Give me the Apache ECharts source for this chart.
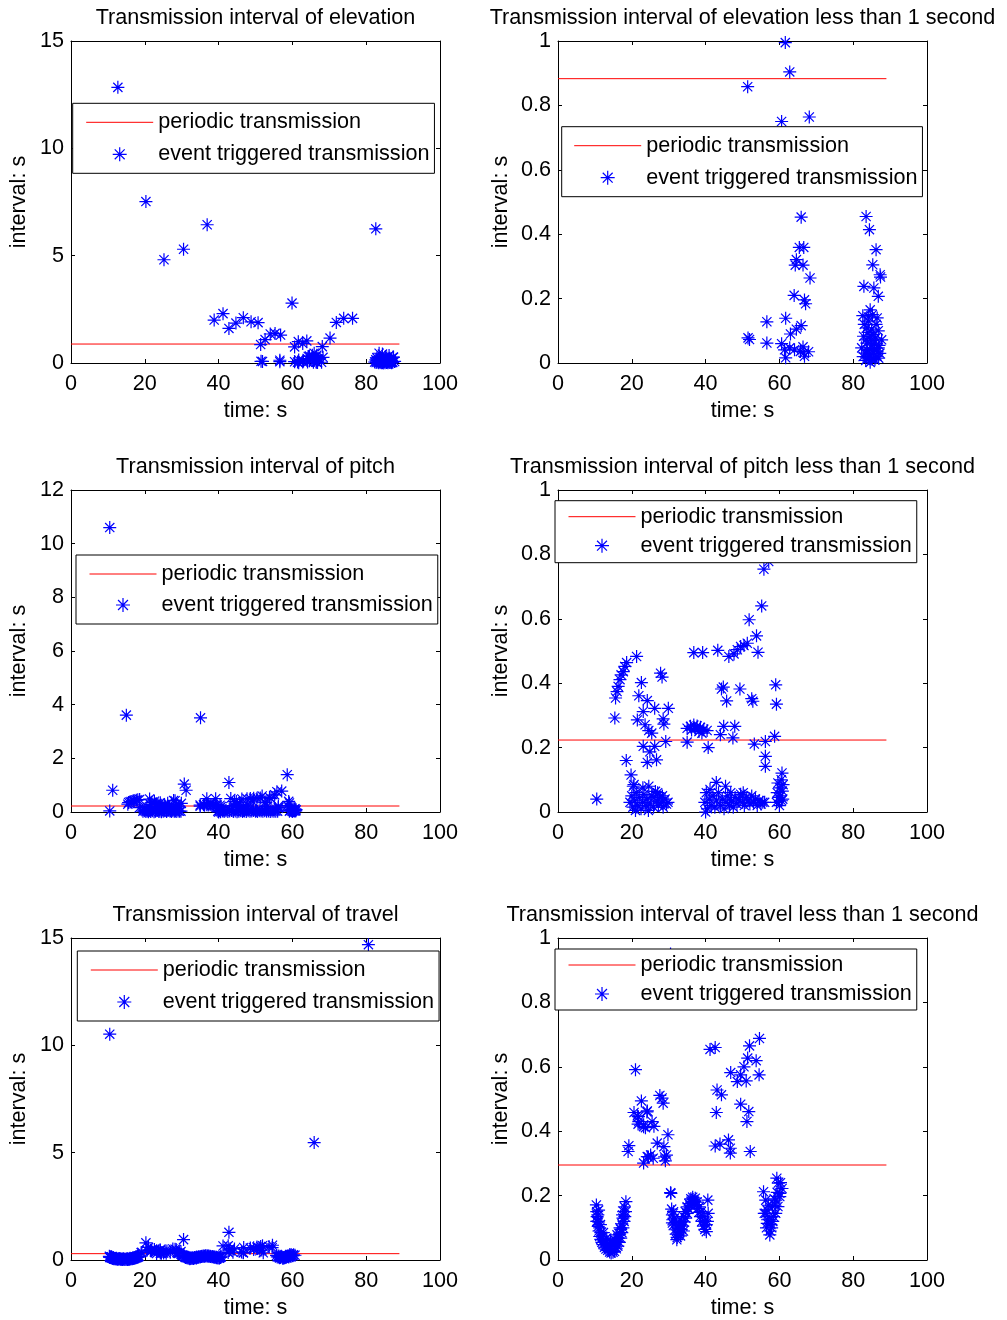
<!DOCTYPE html>
<html>
<head>
<meta charset="utf-8">
<title>Transmission intervals</title>
<script src="https://cdn.jsdelivr.net/npm/echarts@6/dist/echarts.min.js"></script>
<style>
  html, body { margin: 0; padding: 0; background: #fff; }
  #chart { width: 1007px; height: 1320px; }
</style>
</head>
<body>
<div id="chart"></div>
<script>
// ---- data: [time (s), interval (s)] ----
const elevationPoints = [
  [12.7,12.84],[20.3,7.52],[25.2,4.81],[30.5,5.30],[36.9,6.44],[82.6,6.25],
  [38.8,2.00],[41.2,2.30],[42.8,1.61],[44.7,1.86],[46.7,2.11],[48.8,1.92],[50.7,1.88],
  [52.6,1.09],[54.0,1.35],[55.3,1.38],[56.8,1.30],[59.9,2.79],[63.9,1.03],
  [70.2,1.16],[71.9,1.89],[73.9,2.08],[76.3,2.08],
  [51.4,0.858],[61.6,0.995],[62.8,0.904],[60.6,0.750],[68.1,0.764],
  [65.9,0.453],[65.4,0.359],[66.6,0.359],[64.6,0.321],[64.3,0.304],[66.4,0.304],[68.3,0.264],
  [64.0,0.210],[66.8,0.196],[67.1,0.184],[56.6,0.128],[61.7,0.139],[65.9,0.116],[64.6,0.105],
  [63.0,0.090],[51.5,0.078],[51.9,0.073],[56.6,0.062],[60.6,0.060],[61.4,0.041],[61.7,0.016],
  [62.8,0.047],[64.1,0.041],[66.4,0.050],[66.6,0.031],[67.9,0.035],[65.7,0.036],[66.8,0.021],
  [83.5,0.455],[84.4,0.414],[86.2,0.352],[85.3,0.305],[87.3,0.274],[87.4,0.267],[82.9,0.238],
  [85.6,0.233],[86.8,0.207],[84.6,0.165],[82.6,0.147],[84.1,0.143],[86.5,0.140],[83.7,0.109],
  [85.0,0.105],[86.8,0.100],[82.8,0.083],[84.6,0.083],[87.7,0.072],[83.7,0.062],[85.9,0.062],
  [82.3,0.047],[84.6,0.042],[86.8,0.047],[83.2,0.031],[85.5,0.029],[84.1,0.016],[86.4,0.021],
  [84.6,0.002],[83.0,0.120],[84.0,0.095],[85.4,0.088],[86.1,0.078],[83.5,0.072],[84.9,0.056],
  [85.8,0.045],[86.5,0.035],[83.8,0.040],[84.4,0.025],[85.1,0.012],[85.9,0.010],[86.9,0.015],
  [87.2,0.030],[82.7,0.020],[83.4,0.008],[84.8,0.070],[86.2,0.120],[84.2,0.130],[85.2,0.150],
  [87.0,0.055]
];

const pitchPoints = [
  [10.5,10.60],[15.0,3.61],[35.1,3.51],[42.8,1.10],[58.6,1.39],
  [11.3,0.81],[30.7,1.04],[31.2,0.81],
  [10.5,0.040],[15.4,0.292],[15.6,0.354],[16.0,0.374],[16.3,0.390],[16.8,0.411],[17.1,0.426],
  [17.7,0.436],[18.1,0.452],[18.6,0.464],[21.3,0.483],[18.5,0.160],[19.8,0.115],[20.6,0.085],
  [22.6,0.402],[21.9,0.361],[21.5,0.286],[23.1,0.312],[24.2,0.346],[23.6,0.271],[24.6,0.253],
  [25.4,0.245],[23.1,0.204],[24.9,0.187],[24.2,0.154],[26.2,0.204],[26.7,0.162],[26.2,0.322],
  [27.8,0.431],[28.2,0.419],[28.5,0.289],[28.7,0.273],[29.9,0.322],[29.2,0.219],
  [35.0,0.217],[35.0,0.260],[35.9,0.266],[36.8,0.270],[37.7,0.267],[38.6,0.263],[39.5,0.257],
  [40.4,0.253],[36.2,0.255],[37.2,0.258],[38.2,0.250],[39.0,0.245],[36.8,0.495],[39.2,0.495],
  [40.7,0.200],[43.3,0.502],[44.0,0.240],[44.8,0.388],[44.3,0.382],[45.7,0.345],[44.9,0.266],
  [46.3,0.483],[47.7,0.491],[48.6,0.504],[49.5,0.514],[50.4,0.517],[51.3,0.524],[49.3,0.382],
  [47.9,0.266],[47.4,0.230],[51.8,0.597],[53.8,0.547],[54.2,0.496],[52.5,0.352],[52.8,0.344],
  [53.2,0.211],[55.2,0.640],[55.8,0.754],[57.1,0.778],[56.2,0.219],[56.2,0.173],[56.2,0.142],
  [59.0,0.395],[59.2,0.335],[58.7,0.235],[60.7,0.121],[42.9,0.092],[45.4,0.080],
  [19.5,0.030],[20.0,0.050],[20.3,0.015],[20.8,0.035],[21.2,0.060],[21.6,0.020],[22.0,0.045],
  [22.5,0.010],[22.9,0.030],[23.3,0.055],[23.8,0.020],[24.1,0.040],[24.6,0.080],[25.0,0.025],
  [25.4,0.050],[25.9,0.015],[26.4,0.064],[26.8,0.035],[27.2,0.020],[27.6,0.045],[28.0,0.030],
  [28.5,0.015],[29.0,0.040],[29.4,0.025],[29.8,0.030],[20.4,0.080],[21.0,0.005],[23.0,0.075],
  [24.5,0.005],[26.0,0.045],[27.0,0.060],[28.3,0.050],
  [39.8,0.030],[40.2,0.060],[40.5,0.010],[41.0,0.040],[41.5,0.020],[42.0,0.050],[42.5,0.015],
  [43.0,0.035],[43.5,0.060],[44.0,0.020],[44.5,0.040],[45.0,0.010],[45.5,0.030],[46.0,0.050],
  [46.5,0.020],[47.0,0.035],[47.5,0.015],[48.0,0.045],[48.5,0.025],[49.0,0.040],[49.5,0.055],
  [50.0,0.030],[50.5,0.020],[51.0,0.045],[51.5,0.035],[52.0,0.025],[52.5,0.050],[53.0,0.030],
  [53.5,0.040],[54.0,0.020],[54.5,0.035],[55.0,0.025],[55.5,0.030],[56.0,0.030],[40.0,0.000],
  [41.2,0.070],[46.8,0.060],[50.2,0.060],
  [59.2,0.030],[59.4,0.060],[59.6,0.090],[59.8,0.045],[60.0,0.020],[60.1,0.075],[60.3,0.050],
  [60.5,0.100],[60.6,0.035],[60.8,0.065],[61.0,0.085],[60.9,0.040]
];

const travelPoints = [
  [10.5,10.52],[80.6,14.69],[65.9,5.47],[30.5,0.95],[42.8,1.29],[20.3,0.80],
  [21.0,0.591],[19.2,0.355],[19.0,0.337],[20.6,0.458],[21.5,0.448],[21.9,0.430],[21.7,0.422],
  [22.6,0.494],[23.2,0.420],[23.7,0.411],[24.2,0.463],[25.5,0.430],[26.0,0.415],[23.2,0.301],
  [24.2,0.321],[25.1,0.326],[25.8,0.316],[26.9,0.363],[27.6,0.511],[28.2,0.503],[28.5,0.487],
  [28.7,0.352],[29.4,0.326],[29.1,0.308],[29.8,0.389],[30.5,0.209],[24.5,0.320],[28.9,0.320],
  [21.8,0.445],[23.2,0.414],[24.1,0.460],
  [41.2,0.654],[42.6,0.660],[51.9,0.665],[54.6,0.688],[51.4,0.627],[53.7,0.619],[50.4,0.600],
  [46.8,0.582],[49.5,0.575],[48.6,0.554],[51.0,0.556],[54.5,0.575],[43.1,0.528],[44.3,0.513],
  [49.5,0.484],[42.9,0.458],[51.7,0.461],[51.2,0.430],[42.6,0.354],[43.9,0.360],[46.2,0.373],
  [46.7,0.347],[46.7,0.332],[52.1,0.337],
  [10.4,0.171],[10.5,0.150],[10.6,0.135],[10.7,0.120],[10.9,0.104],[11.1,0.090],[11.3,0.073],
  [11.6,0.064],[11.9,0.055],[12.2,0.048],[12.6,0.040],[13.0,0.034],[13.5,0.030],[14.0,0.025],
  [14.4,0.022],[14.9,0.024],[15.3,0.027],[15.8,0.035],[16.2,0.043],[16.6,0.055],[17.0,0.068],
  [17.3,0.085],[17.6,0.100],[17.9,0.120],[18.1,0.135],[18.3,0.150],[18.4,0.181],
  [10.8,0.140],[11.0,0.118],[11.3,0.100],[11.6,0.085],[12.0,0.072],[12.4,0.062],[12.9,0.055],
  [13.4,0.048],[13.9,0.044],[14.4,0.042],[14.9,0.045],[15.4,0.050],[15.9,0.058],[16.3,0.068],
  [16.7,0.080],[17.0,0.095],[17.3,0.112],[17.6,0.130],[17.8,0.150],[18.0,0.165],
  [11.0,0.155],[11.5,0.110],[12.3,0.085],[13.2,0.068],[14.2,0.060],[15.2,0.065],[16.0,0.078],
  [16.8,0.100],[17.5,0.140],[10.5,0.120],[13.7,0.035],[15.6,0.040],
  [30.6,0.207],[30.8,0.158],[31.0,0.140],[31.1,0.125],[31.4,0.109],[31.7,0.094],[32.0,0.080],
  [32.3,0.070],[32.6,0.078],[33.0,0.085],[33.4,0.095],[33.8,0.105],[34.2,0.118],[34.6,0.130],
  [35.0,0.145],[35.4,0.158],[35.8,0.170],[36.2,0.180],[36.6,0.188],[37.0,0.182],[37.4,0.172],
  [37.8,0.160],[38.2,0.148],[38.6,0.135],[39.0,0.120],[39.4,0.105],[39.8,0.095],[40.2,0.088],
  [40.6,0.186],[40.7,0.145],[40.5,0.120],
  [31.5,0.130],[32.0,0.115],[32.5,0.100],[33.0,0.110],[33.5,0.120],[34.0,0.135],[34.5,0.150],
  [35.0,0.165],[35.5,0.175],[36.0,0.190],[36.5,0.195],[37.2,0.192],[37.7,0.180],[38.3,0.165],
  [38.8,0.150],[39.3,0.135],[39.8,0.120],[40.2,0.110],[32.2,0.063],[33.2,0.075],[34.0,0.090],
  [31.3,0.150],[31.0,0.115],
  [55.7,0.212],[59.3,0.254],[59.7,0.239],[60.1,0.197],[59.0,0.186],[58.1,0.166],[56.7,0.155],
  [56.3,0.145],[57.2,0.135],[57.7,0.110],[57.5,0.090],[57.4,0.078],[56.7,0.114],[58.4,0.135],
  [59.0,0.145],[59.6,0.166],[60.1,0.207],[60.7,0.222],[56.3,0.186],[55.9,0.145],[56.8,0.125],
  [57.9,0.100],[58.2,0.120],[58.8,0.170],[59.4,0.210],[60.3,0.240],[57.0,0.170],[56.5,0.100],
  [58.6,0.190]
];

// periodic transmission interval (s) for elevation, pitch, travel
const periodicLevels = [0.883, 0.2235, 0.295];
// time span covered by the periodic reference line
const periodicSpan = [0, 89];

const fullTitles = [
  'Transmission interval of elevation',
  'Transmission interval of pitch',
  'Transmission interval of travel'
];
const zoomTitles = [
  'Transmission interval of elevation less than 1 second',
  'Transmission interval of pitch less than 1 second',
  'Transmission interval of travel less than 1 second'
];
const fullYMax = [15, 12, 15];
const fullYStep = [5, 2, 5];
const xTicks = [0, 20, 40, 60, 80, 100];

const seriesNames = ['periodic transmission', 'event triggered transmission'];

// ---- layout ----
const FONT = '"Liberation Sans", Arial, Helvetica, sans-serif';
const FS = 21.6;
const RED = '#ff0000';
const BLUE = '#0000ff';
const colLeft = [71, 558];
const rowTop = [41, 490, 938];
const plotW = 369, plotH = 322;

// legend boxes: [left, top], padding, itemGap per panel (row-major, left then right)
const legendBoxes = [
  [[72.7, 103.3], [8, 5, 8, 13], 10],
  [[561.7, 126.7], [8, 5, 8, 12], 10],
  [[76, 555], [8, 5, 8, 13], 9],
  [[555, 500.7], [5, 5, 6, 13], 7],
  [[77.3, 951], [8, 5, 8, 13], 10],
  [[555, 949], [5, 5, 5, 13], 7]
];

// MATLAB-style '*' marker: a plus overlaid with a cross
const asterisk = 'path://M5 0L5 10M0 5L10 5M1.46 1.46L8.54 8.54M1.46 8.54L8.54 1.46';

const allPoints = [elevationPoints, pitchPoints, travelPoints];

const grid = [], xAxis = [], yAxis = [], series = [], title = [], legend = [];

function axisCommon() {
  return {
    axisLine: { show: true, onZero: false, lineStyle: { color: '#000', width: 1 } },
    axisTick: { show: true, inside: true, length: 4, lineStyle: { color: '#000', width: 1 } },
    splitLine: { show: false },
    axisLabel: { color: '#000', fontSize: FS, fontFamily: FONT },
    nameTextStyle: { color: '#000', fontSize: FS, fontFamily: FONT }
  };
}

for (let row = 0; row < 3; row++) {
  for (let col = 0; col < 2; col++) {
    const g = grid.length;
    const zoomed = col === 1;
    grid.push({ left: colLeft[col], top: rowTop[row], width: plotW, height: plotH, containLabel: false });

    const yMax = zoomed ? 1 : fullYMax[row];
    const yStep = zoomed ? 0.2 : fullYStep[row];

    // bottom / top x axes
    xAxis.push(Object.assign(axisCommon(), {
      gridIndex: g, type: 'value', position: 'bottom', min: xTicks[0], max: xTicks[xTicks.length - 1],
      interval: 20, name: 'time: s', nameLocation: 'middle', nameGap: 37
    }));
    xAxis[xAxis.length - 1].axisLabel.margin = 10;
    xAxis.push(Object.assign(axisCommon(), {
      gridIndex: g, type: 'value', position: 'top', min: 0, max: 100, interval: 20
    }));
    xAxis[xAxis.length - 1].axisLabel = { show: false };

    // left / right y axes
    yAxis.push(Object.assign(axisCommon(), {
      gridIndex: g, type: 'value', position: 'left', min: 0, max: yMax, interval: yStep,
      name: 'interval: s', nameLocation: 'middle', nameGap: zoomed ? 46 : 41
    }));
    yAxis[yAxis.length - 1].axisLabel.margin = 7;
    yAxis.push(Object.assign(axisCommon(), {
      gridIndex: g, type: 'value', position: 'right', min: 0, max: yMax, interval: yStep
    }));
    yAxis[yAxis.length - 1].axisLabel = { show: false };

    const level = periodicLevels[row];
    series.push({
      name: seriesNames[0], type: 'line', xAxisIndex: 2 * g, yAxisIndex: 2 * g,
      data: [[periodicSpan[0], level], [periodicSpan[1], level]],
      symbol: 'none', silent: true, color: RED, z: 2,
      lineStyle: { color: RED, width: 1, opacity: 1 }, itemStyle: { color: RED }
    });

    const pts = zoomed ? allPoints[row].filter(p => p[1] <= 1) : allPoints[row];
    series.push({
      name: seriesNames[1], type: 'scatter', xAxisIndex: 2 * g, yAxisIndex: 2 * g,
      data: pts, symbol: asterisk, symbolSize: 13, clip: false, silent: true, color: BLUE, z: 3,
      itemStyle: { color: 'rgba(0,0,0,0)', borderColor: BLUE, borderWidth: 1.2, opacity: 1 }
    });

    title.push({
      text: zoomed ? zoomTitles[row] : fullTitles[row],
      left: colLeft[col] + plotW / 2,
      top: rowTop[row] - 34,
      textAlign: 'center',
      padding: 0,
      textStyle: { color: '#000', fontSize: FS, fontWeight: 'normal', fontFamily: FONT }
    });

    const lb = legendBoxes[g];
    legend.push({
      left: lb[0][0], top: lb[0][1], orient: 'vertical', padding: lb[1], itemGap: lb[2],
      itemWidth: 67, itemHeight: 14, selectedMode: false,
      borderColor: '#000', borderWidth: 1, backgroundColor: '#fff', borderRadius: 0,
      data: [
        { name: seriesNames[0], itemStyle: { color: 'rgba(0,0,0,0)', borderColor: 'rgba(0,0,0,0)', borderWidth: 0 } },
        seriesNames[1]
      ],
      itemStyle: { borderWidth: 1.2 },
      lineStyle: { width: 1 },
      textStyle: { color: '#000', fontSize: FS, fontFamily: FONT }
    });
  }
}

const chart = echarts.init(document.getElementById('chart'), null, { renderer: 'canvas' });
chart.setOption({
  animation: false,
  backgroundColor: '#fff',
  textStyle: { fontFamily: FONT },
  title, legend, grid, xAxis, yAxis, series
});
</script>
</body>
</html>
